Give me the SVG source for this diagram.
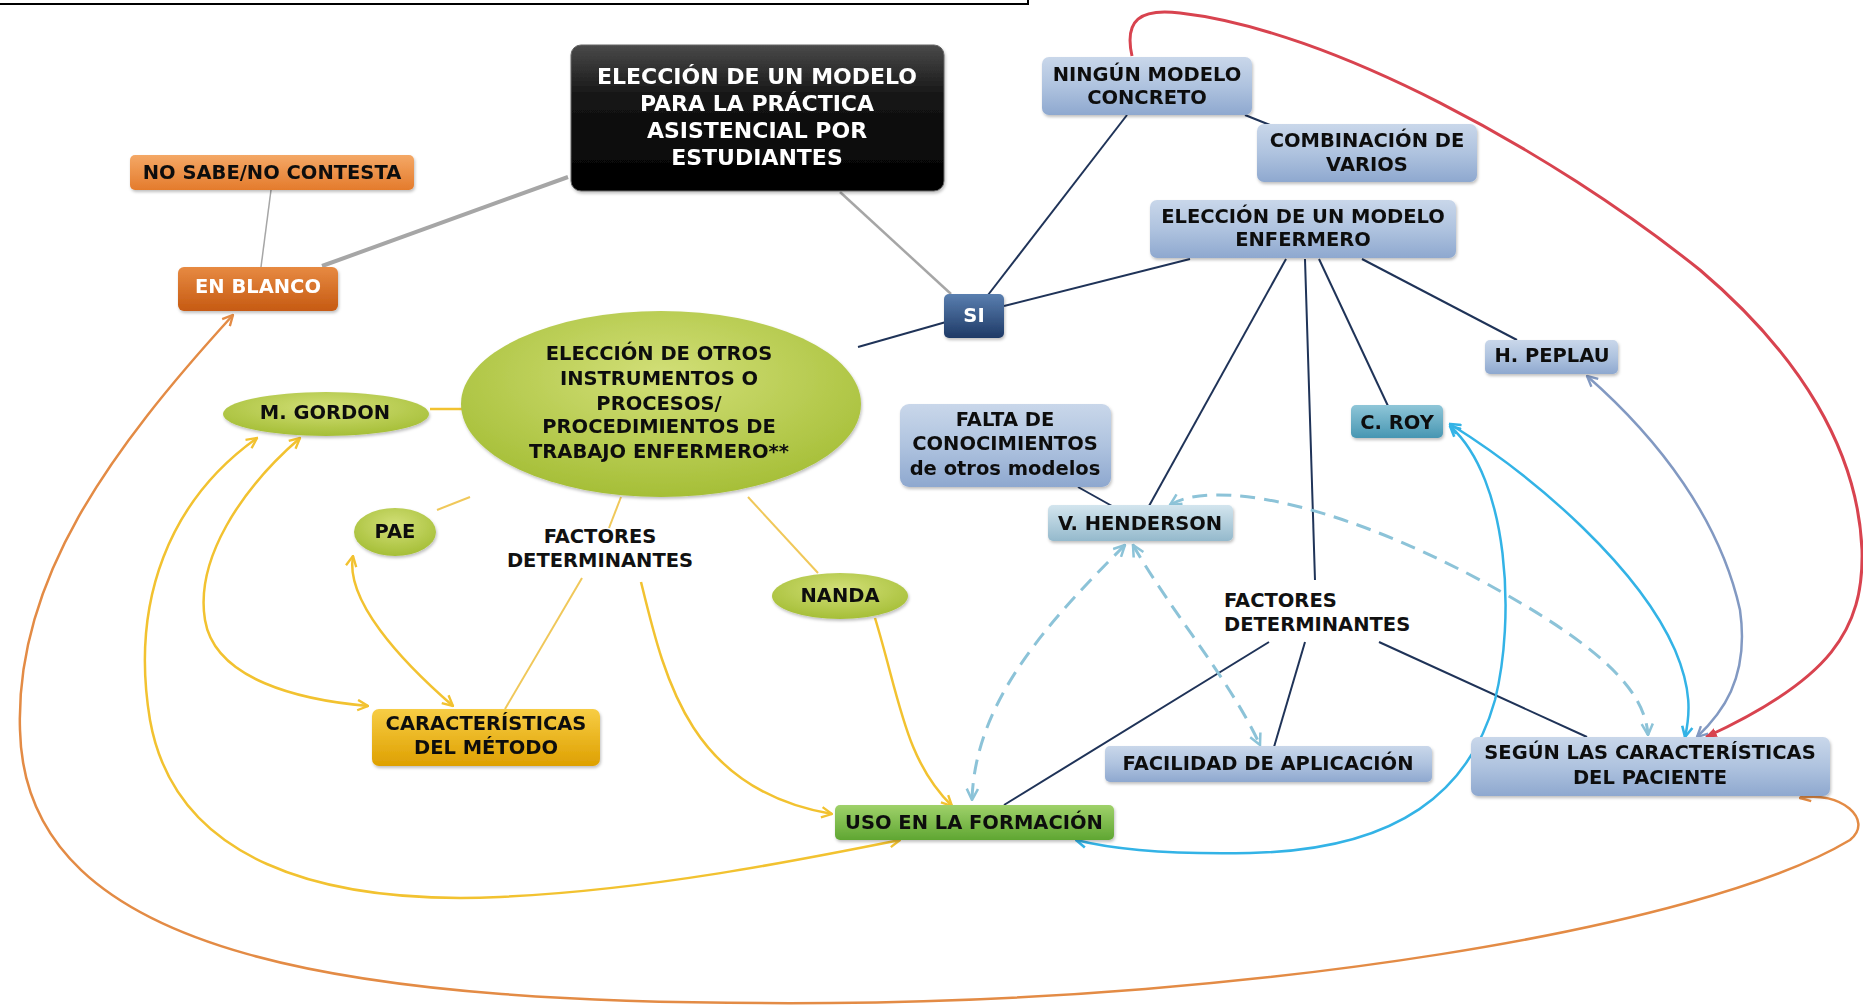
<svg xmlns="http://www.w3.org/2000/svg" width="1863" height="1006" viewBox="0 0 1863 1006">
  <style>
    text { font-family: "DejaVu Sans", Verdana, "Liberation Sans", sans-serif; font-weight: bold; font-size: 19.5px; text-anchor: middle; fill: #111; }
    .big { font-size: 22px; fill: #fff; }
    .wt { fill: #fff; }
    .node { stroke-width: 1; }
    .c-gray { fill: none; stroke: #a6a6a6; }
    .c-navy { fill: none; stroke: #1f3358; stroke-width: 2; }
    .c-gold { fill: none; stroke: #f2c230; stroke-width: 2.5; }
    .c-gold-thin { fill: none; stroke: #f0c85a; stroke-width: 2; }
    .c-dash { fill: none; stroke: #8cc3d8; stroke-width: 3; stroke-dasharray: 15 9; }
    .c-cyan { fill: none; stroke: #33b3e6; stroke-width: 2.5; }
    .c-steel { fill: none; stroke: #8299c2; stroke-width: 2.5; }
    .c-red { fill: none; stroke: #d8434f; stroke-width: 3; }
    .c-orange { fill: none; stroke: #e38b45; stroke-width: 2.5; }
  </style>
  <defs>
    <linearGradient id="gBlack" x1="0" y1="0" x2="0" y2="1">
      <stop offset="0" stop-color="#4a4a4a"/>
      <stop offset="0.35" stop-color="#151515"/>
      <stop offset="1" stop-color="#000"/>
    </linearGradient>
    <linearGradient id="gBlue" x1="0" y1="0" x2="0" y2="1">
      <stop offset="0" stop-color="#c9d7ea"/>
      <stop offset="0.5" stop-color="#afc3df"/>
      <stop offset="1" stop-color="#8ea8cf"/>
    </linearGradient>
    <linearGradient id="gNavy" x1="0" y1="0" x2="0" y2="1">
      <stop offset="0" stop-color="#5a7fb0"/>
      <stop offset="1" stop-color="#1e3a66"/>
    </linearGradient>
    <linearGradient id="gTeal" x1="0" y1="0" x2="0" y2="1">
      <stop offset="0" stop-color="#8fc6d8"/>
      <stop offset="1" stop-color="#4796b2"/>
    </linearGradient>
    <linearGradient id="gPaleTeal" x1="0" y1="0" x2="0" y2="1">
      <stop offset="0" stop-color="#d3e5ee"/>
      <stop offset="1" stop-color="#94b9cc"/>
    </linearGradient>
    <linearGradient id="gOrangeLight" x1="0" y1="0" x2="0" y2="1">
      <stop offset="0" stop-color="#f4a866"/>
      <stop offset="1" stop-color="#e47b2c"/>
    </linearGradient>
    <linearGradient id="gOrange" x1="0" y1="0" x2="0" y2="1">
      <stop offset="0" stop-color="#e78a42"/>
      <stop offset="1" stop-color="#c65a12"/>
    </linearGradient>
    <linearGradient id="gGreen" x1="0" y1="0" x2="0" y2="1">
      <stop offset="0" stop-color="#9fd16a"/>
      <stop offset="1" stop-color="#5fa632"/>
    </linearGradient>
    <linearGradient id="gGold" x1="0" y1="0" x2="0" y2="1">
      <stop offset="0" stop-color="#f7cd45"/>
      <stop offset="1" stop-color="#dea000"/>
    </linearGradient>
    <radialGradient id="gOlive" cx="0.5" cy="0.35" r="0.7">
      <stop offset="0" stop-color="#d2df78"/>
      <stop offset="1" stop-color="#a2bc32"/>
    </radialGradient>
    <filter id="shadow" x="-10%" y="-10%" width="120%" height="130%">
      <feDropShadow dx="1" dy="2" stdDeviation="1.5" flood-color="#000" flood-opacity="0.25"/>
    </filter>

    <marker id="aGold" viewBox="0 0 10 10" refX="9" refY="5" markerWidth="13" markerHeight="13" markerUnits="userSpaceOnUse" orient="auto-start-reverse">
      <path d="M1,1 L9,5 L1,9" fill="none" stroke="#f2c230" stroke-width="1.8"/>
    </marker>
    <marker id="aOrange" viewBox="0 0 10 10" refX="9" refY="5" markerWidth="13" markerHeight="13" markerUnits="userSpaceOnUse" orient="auto-start-reverse">
      <path d="M1,1 L9,5 L1,9" fill="none" stroke="#e38b45" stroke-width="1.8"/>
    </marker>
    <marker id="aDash" viewBox="0 0 10 10" refX="9" refY="5" markerWidth="14" markerHeight="14" markerUnits="userSpaceOnUse" orient="auto-start-reverse">
      <path d="M1,1 L9,5 L1,9" fill="none" stroke="#8cc3d8" stroke-width="1.8"/>
    </marker>
    <marker id="aCyan" viewBox="0 0 10 10" refX="9" refY="5" markerWidth="13" markerHeight="13" markerUnits="userSpaceOnUse" orient="auto-start-reverse">
      <path d="M1,1 L9,5 L1,9" fill="none" stroke="#33b3e6" stroke-width="2"/>
    </marker>
    <marker id="aSteel" viewBox="0 0 10 10" refX="9" refY="5" markerWidth="13" markerHeight="13" markerUnits="userSpaceOnUse" orient="auto-start-reverse">
      <path d="M1,1 L9,5 L1,9" fill="none" stroke="#8299c2" stroke-width="1.8"/>
    </marker>
    <marker id="aRed" viewBox="0 0 10 10" refX="9" refY="5" markerWidth="12" markerHeight="12" markerUnits="userSpaceOnUse" orient="auto-start-reverse">
      <path d="M0,1 L10,5 L0,9 Z" fill="#d8434f"/>
    </marker>
  </defs>

  <rect width="1863" height="1006" fill="#fff"/>

  <!-- frame edge along the top -->
  <rect x="-4" y="-12" width="1032" height="16" fill="none" stroke="#000" stroke-width="2"/>

  <g id="connectors">
    <!-- grey links from the main question -->
    <line class="c-gray" x1="568" y1="177" x2="322" y2="266" stroke-width="4"/>
    <line class="c-gray" x1="840" y1="192" x2="951" y2="294" stroke-width="2.5"/>
    <line class="c-gray" x1="271" y1="190" x2="261" y2="267" stroke-width="1.5"/>

    <!-- navy links -->
    <line class="c-navy" x1="988" y1="295" x2="1127" y2="115"/>
    <line class="c-navy" x1="1245" y1="115" x2="1270" y2="125"/>
    <line class="c-navy" x1="1004" y1="306" x2="1190" y2="259" stroke-width="2.5"/>
    <line class="c-navy" x1="946" y1="322" x2="858" y2="347" stroke-width="2.5"/>
    <line class="c-navy" x1="1286" y1="259" x2="1149" y2="506"/>
    <line class="c-navy" x1="1305" y1="259" x2="1315" y2="580" stroke-width="1.5"/>
    <line class="c-navy" x1="1319" y1="259" x2="1388" y2="406" stroke-width="1.5"/>
    <line class="c-navy" x1="1362" y1="259" x2="1517" y2="340"/>
    <line class="c-navy" x1="1078" y1="487" x2="1112" y2="506"/>
    <line class="c-navy" x1="1269" y1="642" x2="1004" y2="805"/>
    <line class="c-navy" x1="1305" y1="642" x2="1274" y2="747" stroke-width="1.5"/>
    <line class="c-navy" x1="1379" y1="642" x2="1587" y2="737"/>

    <!-- gold links around the green cluster -->
    <line class="c-gold" x1="430" y1="409" x2="463" y2="409"/>
    <line class="c-gold-thin" x1="437" y1="510" x2="470" y2="497"/>
    <line class="c-gold-thin" x1="621" y1="497" x2="609" y2="528"/>
    <line class="c-gold-thin" x1="748" y1="497" x2="818" y2="573"/>
    <line class="c-gold-thin" x1="582" y1="578" x2="505" y2="709"/>
    <path class="c-gold" d="M641 582 C665 680, 690 790, 832 814" marker-end="url(#aGold)"/>
    <path class="c-gold" d="M875 618 C900 700, 905 760, 952 806" marker-end="url(#aGold)"/>
    <path class="c-gold" d="M257 438 C170 500, 130 600, 150 720 C175 860, 320 905, 500 897 C650 890, 800 860, 900 840" marker-start="url(#aGold)" marker-end="url(#aGold)"/>
    <path class="c-gold" d="M300 438 C240 490, 195 560, 205 620 C215 680, 300 700, 368 706" marker-start="url(#aGold)" marker-end="url(#aGold)"/>
    <path class="c-gold" d="M353 556 C345 600, 400 660, 453 706" marker-start="url(#aGold)" marker-end="url(#aGold)"/>

    <!-- dashed links from V. HENDERSON -->
    <path class="c-dash" d="M1125 545 C1050 620, 975 700, 972 800" marker-start="url(#aDash)" marker-end="url(#aDash)"/>
    <path class="c-dash" d="M1133 545 C1170 610, 1230 680, 1260 745" marker-start="url(#aDash)" marker-end="url(#aDash)"/>
    <path class="c-dash" d="M1170 505 C1210 480, 1330 500, 1480 580 C1600 645, 1645 690, 1648 735" marker-start="url(#aDash)" marker-end="url(#aDash)"/>

    <!-- C. ROY links -->
    <path class="c-cyan" d="M1450 426 C1510 480, 1515 620, 1495 700 C1470 790, 1400 850, 1250 853 C1150 855, 1100 846, 1076 840" stroke-width="3" marker-start="url(#aCyan)" marker-end="url(#aCyan)"/>
    <path class="c-cyan" d="M1450 424 C1540 480, 1640 570, 1675 650 C1692 690, 1690 715, 1685 737" marker-start="url(#aCyan)" marker-end="url(#aCyan)"/>

    <!-- H. PEPLAU link -->
    <path class="c-steel" d="M1587 376 C1660 440, 1720 520, 1740 610 C1750 680, 1720 715, 1697 737" marker-start="url(#aSteel)" marker-end="url(#aSteel)"/>

    <!-- red arc from NINGÚN MODELO CONCRETO -->
    <path class="c-red" d="M1132 56 C1124 20, 1140 8, 1180 13 C1330 30, 1550 150, 1700 270 C1800 355, 1858 450, 1862 550 C1864 630, 1830 680, 1706 737" marker-end="url(#aRed)"/>

    <!-- orange loop from EN BLANCO -->
    <path class="c-orange" d="M233 315 C110 450, 15 580, 20 730 C25 960, 350 1006, 830 1003 C1250 1000, 1700 930, 1850 840 C1875 820, 1840 790, 1800 798" marker-start="url(#aOrange)" marker-end="url(#aOrange)"/>
  </g>

  <g id="n-main" filter="url(#shadow)">
    <rect x="571" y="45" width="373" height="146" rx="10" fill="url(#gBlack)" stroke="#666"/>
    <text class="big" x="757" y="84">ELECCIÓN DE UN MODELO</text>
    <text class="big" x="757" y="111">PARA LA PRÁCTICA</text>
    <text class="big" x="757" y="138">ASISTENCIAL POR</text>
    <text class="big" x="757" y="165">ESTUDIANTES</text>
  </g>

  <g id="n-nosabe" filter="url(#shadow)">
    <rect x="130" y="155" width="284" height="35" rx="5" fill="url(#gOrangeLight)"/>
    <text x="272" y="179">NO SABE/NO CONTESTA</text>
  </g>

  <g id="n-enblanco" filter="url(#shadow)">
    <rect x="178" y="267" width="160" height="44" rx="6" fill="url(#gOrange)"/>
    <text class="wt" x="258" y="293">EN BLANCO</text>
  </g>

  <g id="n-si" filter="url(#shadow)">
    <rect x="944" y="294" width="60" height="44" rx="5" fill="url(#gNavy)"/>
    <text class="wt" x="974" y="322">SI</text>
  </g>

  <g id="n-ninguno" filter="url(#shadow)">
    <rect x="1042" y="57" width="210" height="58" rx="7" fill="url(#gBlue)"/>
    <text x="1147" y="81">NINGÚN MODELO</text>
    <text x="1147" y="104">CONCRETO</text>
  </g>

  <g id="n-combinacion" filter="url(#shadow)">
    <rect x="1257" y="124" width="220" height="58" rx="7" fill="url(#gBlue)"/>
    <text x="1367" y="147">COMBINACIÓN DE</text>
    <text x="1367" y="171">VARIOS</text>
  </g>

  <g id="n-modelo-enfermero" filter="url(#shadow)">
    <rect x="1150" y="200" width="306" height="58" rx="7" fill="url(#gBlue)"/>
    <text x="1303" y="223">ELECCIÓN DE UN MODELO</text>
    <text x="1303" y="246">ENFERMERO</text>
  </g>

  <g id="n-peplau" filter="url(#shadow)">
    <rect x="1485" y="340" width="133" height="34" rx="5" fill="url(#gBlue)"/>
    <text x="1552" y="362">H. PEPLAU</text>
  </g>

  <g id="n-roy" filter="url(#shadow)">
    <rect x="1351" y="405" width="92" height="33" rx="5" fill="url(#gTeal)"/>
    <text x="1397" y="429">C. ROY</text>
  </g>

  <g id="n-falta" filter="url(#shadow)">
    <rect x="900" y="404" width="211" height="83" rx="9" fill="url(#gBlue)"/>
    <text x="1005" y="426">FALTA DE</text>
    <text x="1005" y="450">CONOCIMIENTOS</text>
    <text x="1005" y="475">de otros modelos</text>
  </g>

  <g id="n-henderson" filter="url(#shadow)">
    <rect x="1048" y="505" width="185" height="36" rx="5" fill="url(#gPaleTeal)"/>
    <text x="1140" y="530">V. HENDERSON</text>
  </g>

  <g id="n-factores-modelo">
    <text x="1224" y="607" style="text-anchor:start">FACTORES</text>
    <text x="1224" y="631" style="text-anchor:start">DETERMINANTES</text>
  </g>

  <g id="n-facilidad" filter="url(#shadow)">
    <rect x="1105" y="746" width="327" height="36" rx="5" fill="url(#gBlue)"/>
    <text x="1268" y="770">FACILIDAD DE APLICACIÓN</text>
  </g>

  <g id="n-segun" filter="url(#shadow)">
    <rect x="1471" y="737" width="359" height="59" rx="7" fill="url(#gBlue)"/>
    <text x="1650" y="759">SEGÚN LAS CARACTERÍSTICAS</text>
    <text x="1650" y="784">DEL PACIENTE</text>
  </g>

  <g id="n-uso" filter="url(#shadow)">
    <rect x="835" y="805" width="279" height="35" rx="5" fill="url(#gGreen)"/>
    <text x="974" y="829">USO EN LA FORMACIÓN</text>
  </g>

  <g id="n-caracteristicas" filter="url(#shadow)">
    <rect x="372" y="709" width="228" height="57" rx="7" fill="url(#gGold)"/>
    <text x="486" y="730">CARACTERÍSTICAS</text>
    <text x="486" y="754">DEL MÉTODO</text>
  </g>

  <g id="n-otros" filter="url(#shadow)">
    <ellipse cx="661" cy="404" rx="200" ry="93" fill="url(#gOlive)"/>
    <text x="659" y="360">ELECCIÓN DE OTROS</text>
    <text x="659" y="385">INSTRUMENTOS O</text>
    <text x="659" y="410">PROCESOS/</text>
    <text x="659" y="433">PROCEDIMIENTOS DE</text>
    <text x="659" y="458">TRABAJO ENFERMERO**</text>
  </g>

  <g id="n-gordon" filter="url(#shadow)">
    <ellipse cx="326" cy="414" rx="103" ry="22" fill="url(#gOlive)"/>
    <text x="325" y="419">M. GORDON</text>
  </g>

  <g id="n-pae" filter="url(#shadow)">
    <ellipse cx="395" cy="532" rx="41" ry="24" fill="url(#gOlive)"/>
    <text x="395" y="538">PAE</text>
  </g>

  <g id="n-nanda" filter="url(#shadow)">
    <ellipse cx="840" cy="596" rx="68" ry="23" fill="url(#gOlive)"/>
    <text x="840" y="602">NANDA</text>
  </g>

  <g id="n-factores-otros">
    <text x="600" y="543">FACTORES</text>
    <text x="600" y="567">DETERMINANTES</text>
  </g>
</svg>
